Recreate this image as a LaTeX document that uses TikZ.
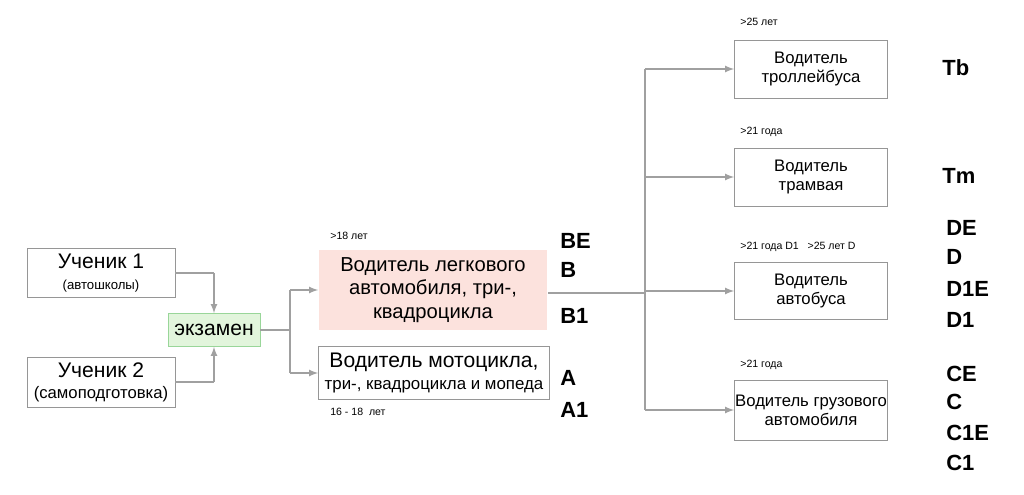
\documentclass[tikz,border=0pt]{standalone}
\usepackage{fontspec}
\setmainfont{Liberation Sans}
\usetikzlibrary{positioning}
\definecolor{linegray}{RGB}{160,160,160}
\definecolor{boxgray}{RGB}{150,150,150}
\definecolor{exgreen}{RGB}{226,245,220}
\definecolor{expink}{RGB}{252,226,221}
\tikzset{
  box/.style={draw=boxgray, fill=white, align=center, inner sep=0pt, font=\fontsize{9.5}{11}\selectfont},
  lbl/.style={anchor=west, inner sep=0pt, font=\fontsize{6}{7}\selectfont},
  cat/.style={anchor=west, inner sep=0pt, font=\fontsize{12.5}{14}\selectfont\bfseries},
  conn/.style={draw=linegray, line width=0.8pt},
  arr/.style={conn, -latex}
}
\begin{document}
\begin{tikzpicture}[x=0.02cm, y=-0.02cm]
  \useasboundingbox (0,0) rectangle (1024,494);

  % pupils and exam
  \node[box, minimum width=2.96cm, minimum height=0.98cm, font=\fontsize{12}{12}\selectfont] (pupilA) at (101,273) {Ученик 1\\{\fontsize{7.5}{9}\selectfont(автошколы)}};
  \node[box, minimum width=2.96cm, minimum height=1.0cm, font=\fontsize{12}{12}\selectfont] (pupilB) at (101,382) {Ученик 2\\{\fontsize{9.5}{10}\selectfont(самоподготовка)}};
  \node[box, draw=green!60!black!40, fill=exgreen, minimum width=1.84cm, minimum height=0.66cm, font=\fontsize{12}{12}\selectfont] (exam) at (214,330) {экзамен};

  % first licences
  \node[box, draw=none, fill=expink, minimum width=4.58cm, minimum height=1.6cm, font=\fontsize{11.5}{13.5}\selectfont] (car) at (433,290) {Водитель легкового\\автомобиля, три-,\\квадроцикла};
  \node[box, minimum width=4.62cm, minimum height=1.06cm, font=\fontsize{12}{13}\selectfont] (moto) at (434,373) {Водитель мотоцикла,\\{\fontsize{9.6}{11}\selectfont три-, квадроцикла и мопеда}};

  % further licences
  \node[box, minimum width=3.06cm, minimum height=1.16cm] (trolley) at (811,69) {Водитель\\троллейбуса};
  \node[box, minimum width=3.06cm, minimum height=1.16cm] (tram) at (811,177) {Водитель\\трамвая};
  \node[box, minimum width=3.06cm, minimum height=1.14cm] (bus) at (811,291) {Водитель\\автобуса};
  \node[box, minimum width=3.06cm, minimum height=1.2cm] (truck) at (811,410) {Водитель грузового\\автомобиля};

  % connectors
  \coordinate (joinA) at (214,273);
  \coordinate (joinB) at (214,382);
  \draw[conn] (pupilA.east) -- (joinA);
  \draw[arr] (joinA) -- (exam.north);
  \draw[conn] (pupilB.east) -- (joinB);
  \draw[arr] (joinB) -- (exam.south);

  \coordinate (splitL) at (290,330);
  \draw[conn] (exam.east) -- (splitL);
  \draw[arr] (290,290) -- (car.west);
  \draw[arr] (290,373) -- (moto.west);
  \draw[conn] (290,290) -- (290,373);

  \coordinate (splitR) at (645,293);
  \draw[conn] (car.east |- splitR) -- (splitR);
  \draw[conn] (645,69) -- (645,410);
  \foreach \n in {trolley,tram,bus,truck}
    \draw[arr] (645,0 |- \n.west) -- (\n.west);

  % ages
  \node[lbl] (ageCar) at (330,236) {>18 лет};
  \node[lbl] (ageMoto) at (330,412) {16 - 18~ лет};
  \node[lbl] (ageTrolley) at (740,22) {>25 лет};
  \node[lbl] (ageTram) at (740,132) {>21 года};
  \node[lbl] (ageBus) at (740,247) {>21 года D1~~ >25 лет D};
  \node[lbl] (ageTruck) at (740,365) {>21 года};

  % categories
  \foreach \t/\y in {BE/241,B/270,B1/316,A/378,A1/410}
    \node[cat] at (560,\y) {\t};
  \foreach \t/\y in {Tb/68,Tm/176}
    \node[cat] at (942,\y) {\t};
  \foreach \t/\y in {DE/228,D/257,D1E/289,D1/320,CE/374,C/402,C1E/433,C1/463}
    \node[cat] at (946,\y) {\t};
\end{tikzpicture}
\end{document}
